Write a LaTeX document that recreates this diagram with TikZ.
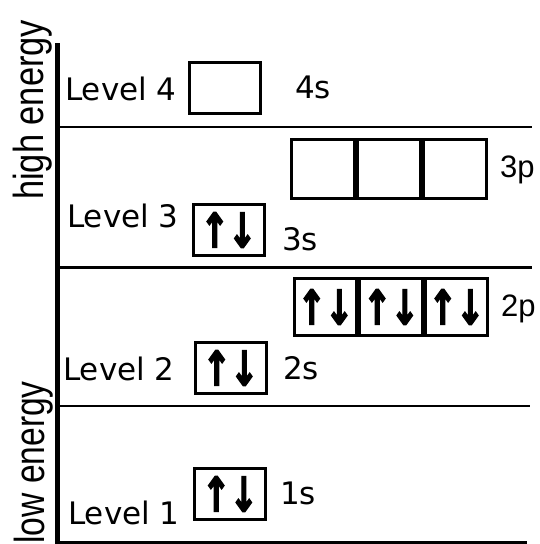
\documentclass[tikz,border=0pt]{standalone}
\usepackage{fontspec}
\setmainfont{DejaVu Sans}
\newfontfamily\axisfont{Liberation Sans}
\newfontfamily\arrowfont{DejaVu Sans}[FakeBold=3]
\usepackage{tikz}

\newcommand{\spinpair}{{\fontsize{48}{48}\arrowfont\bfseries\scalebox{0.72}[1]{↑\kern-2pt↓}}}

\begin{document}
\begin{tikzpicture}[x=10pt,y=-10pt,
  every node/.style={font=\fontsize{31}{34}\selectfont,inner sep=0pt},
  lvl/.style={line width=2.7pt},
  sbox/.style={draw,line width=3pt,minimum width=71pt,minimum height=51pt},
  pbox/.style={draw,line width=3pt,minimum width=62.5pt,minimum height=58pt}]
 \useasboundingbox (0,0) rectangle (53.9,54.4);
 % axis and levels
 \draw[line width=5pt] (5.7,4.3)--(5.7,54.4);
 \draw[lvl] (5.7,12.7)--(53.2,12.7);
 \draw[lvl] (5.7,26.75)--(53.2,26.75);
 \draw[lvl] (5.7,40.6)--(53.0,40.6);
 \draw[lvl] (5.7,54.25)--(52.7,54.25);
 \node[rotate=90,anchor=base west,font=\fontsize{42}{44}\axisfont] (hi) at (4.35,20.0) {\scalebox{0.82}[1]{high energy}};
 \node[rotate=90,anchor=base east,font=\fontsize{42}{44}\axisfont] (lo) at (4.5,38.1) {\scalebox{0.8}[1]{low energy}};
 % level names
 \foreach \n/\x/\y in {4/6.5/10.0,3/6.7/22.7,2/6.3/38.0,1/6.8/52.4}
  \node[anchor=base west] (lev\n) at (\x,\y) {Level \n};
 % s orbitals
 \node[sbox] (s4) at (22.5,8.75) {};
 \node[sbox] (s3) at (22.85,23.0) {\spinpair};
 \node[sbox] (s2) at (23.05,36.8) {\spinpair};
 \node[sbox] (s1) at (23.0,49.4) {\spinpair};
 \foreach \n/\x/\y in {4/29.5/9.8,3/28.2/25.0,2/28.3/37.9,1/28.0/50.4}
  \node[anchor=base west] (s\n lab) at (\x,\y) {\n s};
 % p orbitals
 \foreach \i/\x in {1/32.25,2/38.85,3/45.45}
  \node[pbox,minimum width=63pt,minimum height=59pt] (p3\i) at (\x,16.9) {};
 \foreach \i/\x in {1/32.55,2/39.1,3/45.65}
  \node[pbox,minimum height=57pt] (p2\i) at (\x,30.7) {\spinpair};
 \node[anchor=base west,font=\fontsize{31}{32}\axisfont] (p3lab) at (50.0,17.7) {3p};
 \node[anchor=base west,font=\fontsize{31}{32}\axisfont] (p2lab) at (50.1,31.6) {2p};
\end{tikzpicture}
\end{document}
